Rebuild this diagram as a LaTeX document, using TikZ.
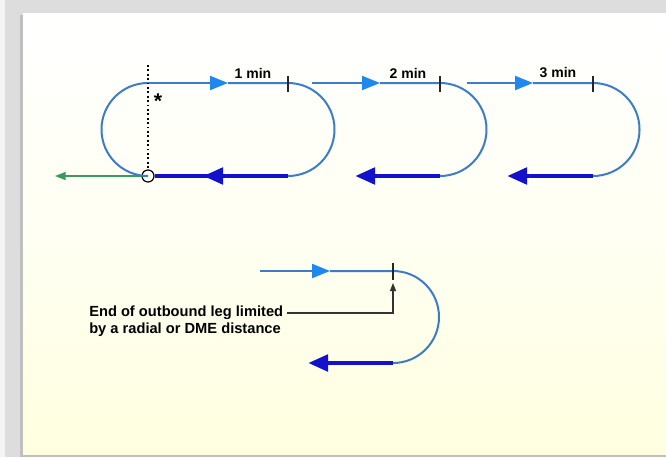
\documentclass[tikz,border=0pt]{standalone}
\usepackage{fontspec}
\setmainfont{Liberation Sans}
\usetikzlibrary{arrows.meta}

\definecolor{legblue}{HTML}{3D7CC6}
\definecolor{tipblue}{HTML}{1E88EE}
\definecolor{inblue}{HTML}{1212CE}
\definecolor{exitgreen}{HTML}{3A9A5C}
\definecolor{panelbg}{HTML}{FFFFE0}
\definecolor{outergray}{HTML}{DDDDDD}

\begin{document}
\begin{tikzpicture}[x=0.75pt,y=-0.75pt,
					outleg/.style={draw=legblue,line width=1.5pt},
					outtip/.style={outleg,-{Triangle[length=13.5pt,width=10.5pt,color=tipblue]}},
					inline/.style={draw=inblue,line width=3.6pt},
					inleg/.style={inline,-{Triangle[length=15pt,width=12pt,color=inblue]}},
					ticker/.style={draw=black!85,line width=1.5pt},
					label/.style={font=\fontsize{10.5}{12}\selectfont\bfseries,inner sep=0pt},
					note/.style={font=\fontsize{11}{13}\selectfont\bfseries,inner sep=0pt,anchor=west}]

  % frame
  \useasboundingbox (0,0) rectangle (666,457);
  \fill[outergray] (0,0) rectangle (666,457);
  \fill[gray!8] (0,0) rectangle (5,457);
  \fill[black!25] (20,15) rectangle (666,457);
  \shade[top color=white,bottom color=panelbg,middle color=panelbg!40] (23,13) rectangle (666,454);

  % fixed end of the pattern
  \node[circle,draw=black,line width=0.9pt,minimum size=9pt,inner sep=0pt] (fix) at (148,176) {};
  \coordinate (s1) at (148,83);
  \coordinate (t1) at (288,83);
  \coordinate (e1) at (288,176);

  % three holding patterns
  \draw[outleg] (s1) arc (-90:-270:46.5);
  \draw[outtip] (s1) -- (228,83) coordinate (m1);
  \draw[outleg] (m1) -- (t1) arc (-90:90:46.5);
  \draw[inline] (e1) -- (fix.east);
  \draw[inleg] (e1) -- (203,176) coordinate (r1);
  \draw[ticker] (t1) ++(0,-7) -- ++(0,16);
  \node[label] (min1) at (253,73) {1 min};

  \coordinate (s2) at (312,83);
  \coordinate (t2) at (440,83);
  \coordinate (e2) at (440,176);
  \draw[outtip] (s2) -- (380,83) coordinate (m2);
  \draw[outleg] (m2) -- (t2) arc (-90:90:46.5);
  \draw[inleg] (e2) -- (355,176) coordinate (r2);
  \draw[ticker] (t2) ++(0,-7) -- ++(0,16);
  \node[label] (min2) at (408,73) {2 min};

  \coordinate (s3) at (467,83);
  \coordinate (t3) at (593,83);
  \coordinate (e3) at (593,176);
  \draw[outtip] (s3) -- (533,83) coordinate (m3);
  \draw[outleg] (m3) -- (t3) arc (-90:90:46.5);
  \draw[inleg] (e3) -- (507,176) coordinate (r3);
  \draw[ticker] (t3) ++(0,-7) -- ++(0,16);
  \node[label] (min3) at (558,73) {3 min};

  % abeam and exit
  \coordinate (abeam) at (148,65);
  \draw[dotted,line width=1.3pt] (abeam) -- (fix.north);
  \node[font=\fontsize{16}{16}\selectfont\bfseries,inner sep=0pt] (star) at (158,101) {*};
  \coordinate (exit) at (55,176);
  \draw[exitgreen,line width=1.1pt,-{Triangle[length=8pt,width=6pt]}] (fix.west) -- (exit);

  % limited outbound leg
  \coordinate (s4) at (260,271);
  \coordinate (t4) at (393,271);
  \coordinate (e4) at (393,363);
  \draw[outtip] (s4) -- (330,271) coordinate (m4);
  \draw[outleg] (m4) -- (t4) arc (-90:90:46);
  \draw[inleg] (e4) -- (308,363) coordinate (r4);
  \draw[ticker] (t4) ++(0,-8) -- ++(0,17);

  \node[note] (note1) at (89,313) {End of outbound leg limited};
  \node[note] (note2) at (89,330) {by a radial or DME distance};
  \coordinate (bend) at (393,313);
  \coordinate (tickfoot) at (393,283);
  \draw[black!80,line width=0.8pt,-{Triangle[length=6pt,width=4.5pt]}]
    ([xshift=3pt]note1.east) -- (bend) -- (tickfoot);
\end{tikzpicture}
\end{document}
